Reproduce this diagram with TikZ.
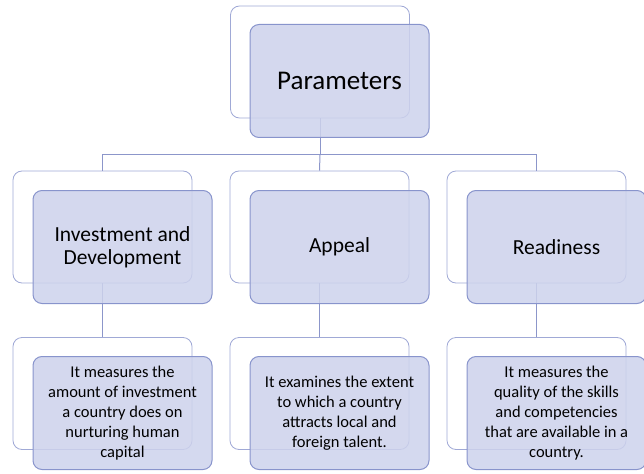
\documentclass[tikz,border=0pt]{standalone}
\usepackage{fontspec}
\setmainfont{Carlito}
\usetikzlibrary{positioning}
\definecolor{boxfill}{RGB}{205,210,236}
\definecolor{boxline}{RGB}{136,148,204}
\definecolor{linkline}{RGB}{140,150,202}

\begin{document}
\begin{tikzpicture}[x=1pt,y=-1pt,
                        backbox/.style={draw=boxline!80, line width=0.8pt, rounded corners=9pt, fill=white,
                                        minimum width=179pt, minimum height=112pt, inner sep=0pt},
                        frontbox/.style={draw=boxline, line width=1pt, rounded corners=9pt, fill=boxfill,
                                         fill opacity=0.85, text opacity=1, text=black, align=center,
                                         minimum width=179pt, minimum height=113pt, inner sep=0pt},
                        toptext/.style={font=\fontsize{27}{30}\selectfont},
                        midtext/.style={font=\fontsize{21.5}{23}\selectfont},
                        lowtext/.style={font=\fontsize{16.5}{19.8}\selectfont},
                        link/.style={draw=linkline, line width=1pt}]

                        \useasboundingbox (0,0) rectangle (644,473);

                        \node[backbox] (parB) at (320,62) {};

                        \node[backbox] (invB) at (102.5,227) {};
                        \node[backbox] (appB) at (319.5,227) {};
                        \node[backbox] (reaB) at (536.5,227) {};

                        \node[backbox] (invdB) at (102.5,393.5) {};
                        \node[backbox] (appdB) at (319.5,393.5) {};
                        \node[backbox] (readB) at (536.5,393.5) {};

                        \coordinate (bus) at (320,155);

                        \draw[link] (parB.south) -- (bus) -| (invB.north);
                        \draw[link] (bus) -| (reaB.north);
                        \draw[link] (bus) -- (appB.north);

                        \draw[link] (invB.south) -- (invdB.north);
                        \draw[link] (appB.south) -- (appdB.north);
                        \draw[link] (reaB.south) -- (readB.north);

                        \node[frontbox, toptext] (par) at ([shift={(19.5,19)}]parB) {Parameters};

                        \node[frontbox, midtext] (inv) at ([shift={(20,20)}]invB) {Investment and\\Development};
                        \node[frontbox, midtext] (app) at ([shift={(20,20)}]appB) {Appeal};
                        \node[frontbox, midtext] (rea) at ([shift={(20,20)}]reaB) {Readiness};

                        \node[frontbox, lowtext] (invd) at ([shift={(20,19.5)}]invdB)
                            {It measures the\\amount of investment\\a country does on\\nurturing human\\capital};
                        \node[frontbox, lowtext] (appd) at ([shift={(20,19.5)}]appdB)
                            {It examines the extent\\to which a country\\attracts local and\\foreign talent.};
                        \node[frontbox, lowtext] (read) at ([shift={(20,19.5)}]readB)
                            {It measures the\\quality of the skills\\and competencies\\that are available in a\\country.};
                    \end{tikzpicture}
\end{document}
